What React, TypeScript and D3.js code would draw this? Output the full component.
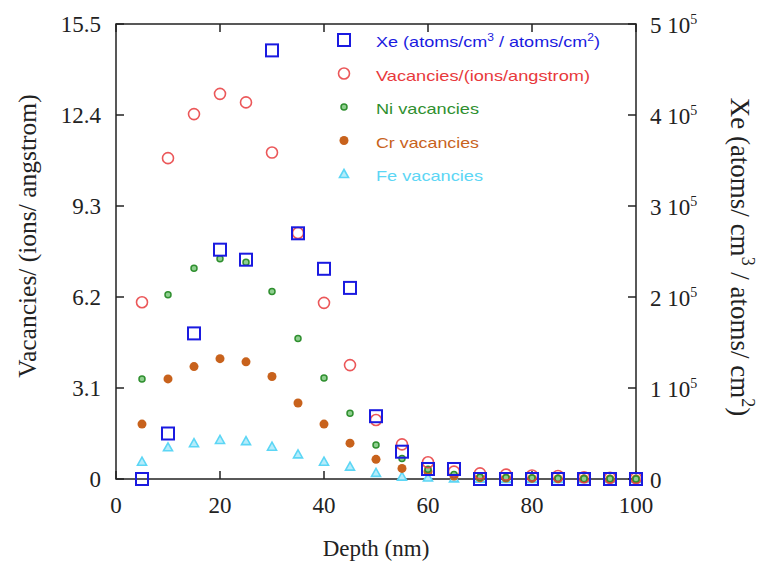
import React from "react";
import * as d3 from "d3";

// depth (nm) for every series
const depth = [5, 10, 15, 20, 25, 30, 35, 40, 45, 50, 55, 60, 65, 70, 75, 80, 85, 90, 95, 100];

// Xe concentration, units of 1e5 (right axis)
const xe = [0, 0.5, 1.6, 2.52, 2.41, 4.71, 2.7, 2.31, 2.1, 0.69, 0.3, 0.11, 0.11, 0, 0, 0, 0, 0, 0, 0];
// vacancies (left axis)
const vac = [6.02, 10.93, 12.43, 13.12, 12.83, 11.12, 8.38, 6.0, 3.88, 2.01, 1.18, 0.57, 0.25, 0.19, 0.15, 0.12, 0.1, 0.06, 0.04, 0.03];
const ni = [3.41, 6.28, 7.18, 7.5, 7.38, 6.39, 4.79, 3.44, 2.24, 1.16, 0.7, 0.33, 0.15, 0.06, 0.04, 0.03, 0.02, 0.01, 0.01, 0];
const cr = [1.87, 3.41, 3.83, 4.1, 3.99, 3.49, 2.59, 1.87, 1.22, 0.67, 0.36, 0.25, 0.1, 0.04, 0.03, 0.02, 0.01, 0.01, 0, 0];
const fe = [0.59, 1.08, 1.22, 1.33, 1.29, 1.1, 0.84, 0.59, 0.42, 0.21, 0.08, 0.05, 0.02, 0.01, 0, 0, 0, 0, 0, 0];

const xTicks = [0, 20, 40, 60, 80, 100];
const yTicks = [0, 3.1, 6.2, 9.3, 12.4, 15.5];
const y2Ticks = [0, 1, 2, 3, 4, 5];

const BLUE = "#1a1ae0";
const RED = "#e8393c";
const GREEN = "#2f8f2f";
const ORANGE = "#c8621c";
const CYAN = "#5cd6f5";

const W = 761;
const H = 564;
const m = { left: 116, right: 125, top: 24, bottom: 85 };

const x = d3.scaleLinear().domain([0, 100]).range([m.left, W - m.right]);
const y = d3.scaleLinear().domain([0, 15.5]).range([H - m.bottom, m.top]);
const y2 = d3.scaleLinear().domain([0, 5]).range([H - m.bottom, m.top]);

const serif = "'Liberation Serif', 'Times New Roman', serif";
const sans = "'Liberation Sans', Arial, sans-serif";

const Square = ({ cx, cy }: { cx: number; cy: number }) => (
  <rect x={cx - 6} y={cy - 6} width={12} height={12} fill="none" stroke={BLUE} strokeWidth={2} />
);
const Ring = ({ cx, cy }: { cx: number; cy: number }) => (
  <circle cx={cx} cy={cy} r={5.5} fill="none" stroke={RED} strokeWidth={1.6} opacity={0.85} />
);
const NiDot = ({ cx, cy }: { cx: number; cy: number }) => (
  <circle cx={cx} cy={cy} r={3} fill="#8fcf8f" stroke={GREEN} strokeWidth={1.5} />
);
const CrDot = ({ cx, cy }: { cx: number; cy: number }) => (
  <circle cx={cx} cy={cy} r={4.5} fill={ORANGE} />
);
const FeTri = ({ cx, cy }: { cx: number; cy: number }) => (
  <path
    d={`M${cx},${cy - 4.5}L${cx + 4.5},${cy + 3.5}L${cx - 4.5},${cy + 3.5}Z`}
    fill="#b5ecfb"
    stroke={CYAN}
    strokeWidth={1.6}
  />
);

const legend = [
  { label: "Xe (atoms/cm", sup1: "3", mid: " / atoms/cm", sup2: "2", end: ")", color: BLUE, M: Square, len: 224 },
  { label: "Vacancies/(ions/angstrom)", color: RED, M: Ring, len: 214 },
  { label: "Ni vacancies", color: GREEN, M: NiDot, len: 103 },
  { label: "Cr vacancies", color: ORANGE, M: CrDot, len: 103 },
  { label: "Fe vacancies", color: CYAN, M: FeTri, len: 107 },
];

export default function App() {
  const x0 = m.left;
  const x1 = W - m.right;
  const yb = H - m.bottom;
  const yt = m.top;
  const tick = 8;

  return (
    <svg width={W} height={H} style={{ position: "absolute", left: 0, top: 0 }}>
      <rect width={W} height={H} fill="#fff" />

      {/* frame */}
      <rect x={x0} y={yt} width={x1 - x0} height={yb - yt} fill="none" stroke="#222" strokeWidth={1.5} />

      {/* x ticks, bottom and top, inward */}
      {xTicks.map((t) => (
        <g key={"x" + t}>
          <line x1={x(t)} x2={x(t)} y1={yb} y2={yb - tick} stroke="#222" strokeWidth={1.5} />
          <line x1={x(t)} x2={x(t)} y1={yt} y2={yt + tick} stroke="#222" strokeWidth={1.5} />
          <text x={x(t)} y={yb + 34} textAnchor="middle" fontFamily={serif} fontSize={23} fill="#222">
            {t}
          </text>
        </g>
      ))}

      {/* left ticks */}
      {yTicks.map((t) => (
        <g key={"y" + t}>
          <line x1={x0} x2={x0 + tick} y1={y(t)} y2={y(t)} stroke="#222" strokeWidth={1.5} />
          <text x={x0 - 15} y={y(t) + 8} textAnchor="end" fontFamily={serif} fontSize={23} fill="#222">
            {t === 0 ? "0" : t.toFixed(1)}
          </text>
        </g>
      ))}

      {/* right ticks */}
      {y2Ticks.map((t) => (
        <g key={"r" + t}>
          <line x1={x1} x2={x1 - tick} y1={y2(t)} y2={y2(t)} stroke="#222" strokeWidth={1.5} />
          <text x={x1 + 14} y={y2(t) + 9} fontFamily={serif} fontSize={23} fill="#222">
            {t === 0 ? (
              "0"
            ) : (
              <>
                {t} 10
                <tspan dy={-9} fontSize={14}>5</tspan>
              </>
            )}
          </text>
        </g>
      ))}

      {/* axis titles */}
      <text x={x(50)} y={H - 8} textAnchor="middle" fontFamily={serif} fontSize={23} fill="#222">
        Depth (nm)
      </text>
      <text
        transform={`translate(36,236) rotate(-90)`}
        textAnchor="middle"
        fontFamily={serif}
        fontSize={25.5}
        fill="#222"
      >
        Vacancies/ (ions/ angstrom)
      </text>
      <text
        transform={`translate(731,257) rotate(90)`}
        textAnchor="middle"
        fontFamily={serif}
        fontSize={27}
        fill="#222"
      >
        Xe (atoms/ cm
        <tspan dy={-11} fontSize={18}>3</tspan>
        <tspan dy={11}> / atoms/ cm</tspan>
        <tspan dy={-11} fontSize={18}>2</tspan>
        <tspan dy={11}>)</tspan>
      </text>

      {/* data */}
      {fe.map((v, i) => <FeTri key={"fe" + i} cx={x(depth[i])} cy={y(v)} />)}
      {cr.map((v, i) => <CrDot key={"cr" + i} cx={x(depth[i])} cy={y(v)} />)}
      {ni.map((v, i) => <NiDot key={"ni" + i} cx={x(depth[i])} cy={y(v)} />)}
      {vac.map((v, i) => <Ring key={"v" + i} cx={x(depth[i])} cy={y(v)} />)}
      {xe.map((v, i) => <Square key={"xe" + i} cx={x(depth[i])} cy={y2(v)} />)}

      {/* legend */}
      {legend.map((d, i) => {
        const ly = 42 + i * 33.5;
        const M = d.M;
        return (
          <g key={"lg" + i}>
            <M cx={344} cy={ly - 2} />
            <text x={376} y={ly + 5} fontFamily={sans} fontSize={15} fill={d.color}
              textLength={d.len} lengthAdjust="spacingAndGlyphs">
              {d.sup1 ? (
                <>
                  {d.label}
                  <tspan dy={-6} fontSize={10}>{d.sup1}</tspan>
                  <tspan dy={6}>{d.mid}</tspan>
                  <tspan dy={-6} fontSize={10}>{d.sup2}</tspan>
                  <tspan dy={6}>{d.end}</tspan>
                </>
              ) : (
                d.label
              )}
            </text>
          </g>
        );
      })}
    </svg>
  );
}
